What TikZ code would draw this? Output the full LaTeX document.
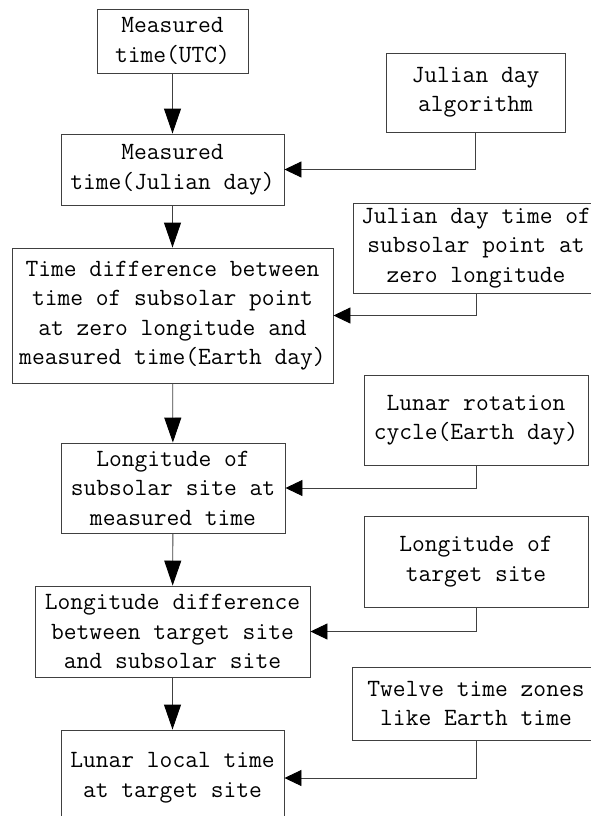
\documentclass[tikz,border=0pt]{standalone}
\usepackage{fontspec}
\usepackage{tikz}
\usetikzlibrary{arrows.meta}

\begin{document}
\begin{tikzpicture}[x=1pt, y=-1pt,
	box/.style={draw=black!75, line width=0.9pt, align=center, inner sep=0pt,
		font=\ttfamily\fontsize{24.8}{29.5}\selectfont},
	flow/.style={draw=black!75, line width=0.9pt, -{Triangle[length=25pt, width=17pt, black]}},
	feed/.style={draw=black!75, line width=0.9pt, -{Triangle[length=17pt, width=16pt, black]}}]

	\useasboundingbox (0,0) rectangle (591,816);

	% main chain
	\node[box, minimum width=151pt, minimum height=64pt] (utc) at (172.5,41) {Measured\\time(UTC)};
	\node[box, minimum width=223pt, minimum height=71pt] (jd) at (172.5,169.5) {Measured\\time(Julian day)};
	\node[box, minimum width=321pt, minimum height=135pt] (diff) at (172.5,315.5) {Time difference between\\time of subsolar point\\at zero longitude and\\measured time(Earth day)};
	\node[box, minimum width=224pt, minimum height=90pt] (sublon) at (173,488) {Longitude of\\subsolar site at\\measured time};
	\node[box, minimum width=275pt, minimum height=91pt] (londiff) at (172.5,631.5) {Longitude difference\\between target site\\and subsolar site};
	\node[box, minimum width=223pt, minimum height=96pt] (local) at (172.5,778) {Lunar local time\\at target site};

	% inputs
	\node[box, minimum width=179pt, minimum height=79pt] (algo) at (475.5,92.5) {Julian day\\algorithm};
	\node[box, minimum width=246pt, minimum height=90pt] (noon) at (476,248) {Julian day time of\\subsolar point at\\zero longitude};
	\node[box, minimum width=224pt, minimum height=90pt] (cycle) at (476,420) {Lunar rotation\\cycle(Earth day)};
	\node[box, minimum width=224pt, minimum height=91pt] (target) at (476,561.5) {Longitude of\\target site};
	\node[box, minimum width=248pt, minimum height=73pt] (zones) at (476,703.5) {Twelve time zones\\like Earth time};

	\draw[flow] (utc) -- (jd);
	\draw[flow] (jd) -- (diff);
	\draw[flow] (diff) -- (sublon);
	\draw[flow] (sublon) -- (londiff);
	\draw[flow] (londiff) -- (local);

	\draw[feed] (algo.south) |- (jd.east);
	\draw[feed] (noon.south) |- (diff.east);
	\draw[feed] (cycle.south) |- (sublon.east);
	\draw[feed] (target.south) |- (londiff.east);
	\draw[feed] (zones.south) |- (local.east);

\end{tikzpicture}
\end{document}
